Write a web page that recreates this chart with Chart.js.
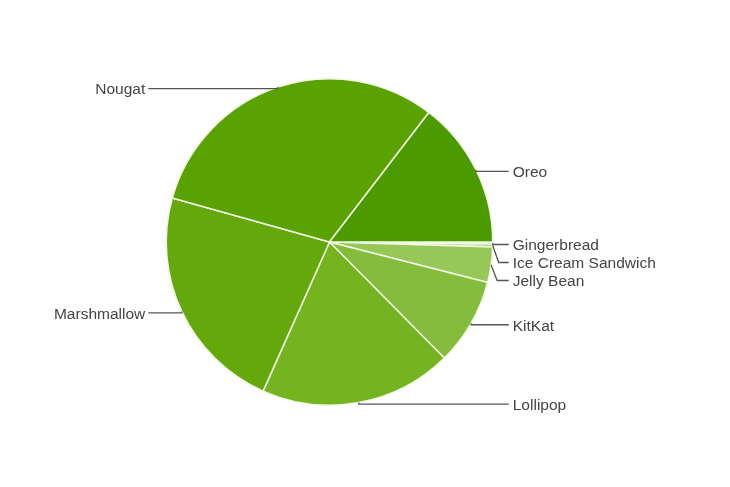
<!DOCTYPE html>
<html>
<head>
<meta charset="utf-8">
<title>Android versions</title>
<script src="https://cdn.jsdelivr.net/npm/chart.js@4"></script>
<style>
    html, body { margin: 0; padding: 0; background: #fff; }
    #wrap { width: 730px; height: 487px; position: relative; }
</style>
</head>
<body>
<div id="wrap"><canvas id="pie"></canvas></div>
<script>
// Android platform versions share (%)
const versions = ['Gingerbread', 'Ice Cream Sandwich', 'Jelly Bean', 'KitKat', 'Lollipop', 'Marshmallow', 'Nougat', 'Oreo'];
const shares = [0.2, 0.3, 3.5, 8.6, 19.1, 22.7, 31.1, 14.6];
const sliceColors = ['#cde6ae', '#b4d98a', '#97c857', '#84bc3c', '#74b421', '#64a80b', '#5aa200', '#4b9a00'];

// Leader lines + labels, Google Charts style
const leaderLabels = {
    id: 'leaderLabels',
    afterDraw(chart) {
        const ctx = chart.ctx;
        const arcs = chart.getDatasetMeta(0).data;
        const gap = 18;
        const items = arcs.map((arc, i) => {
            const mid = (arc.startAngle + arc.endAngle) / 2;
            const px = arc.x + Math.cos(mid) * arc.outerRadius;
            const py = arc.y + Math.sin(mid) * arc.outerRadius;
            return { i, px, py, ly: py + 1.5, right: Math.cos(mid) >= 0, cx: arc.x, r: arc.outerRadius };
        });

        // push overlapping labels apart on each side
        [true, false].forEach(side => {
            const list = items.filter(it => it.right === side).sort((a, b) => a.py - b.py);
            for (let k = 1; k < list.length; k++) {
                if (list[k].ly < list[k - 1].ly + gap) list[k].ly = list[k - 1].ly + gap;
            }
        });

        ctx.save();
        ctx.font = '15.5px "Liberation Sans", Arial, sans-serif';
        ctx.fillStyle = '#444';
        ctx.strokeStyle = '#555';
        ctx.lineWidth = 1.3;
        ctx.textBaseline = 'middle';
        items.forEach(it => {
            const endX = it.right ? it.cx + it.r + 16 : it.cx - it.r - 18;
            ctx.beginPath();
            ctx.moveTo(it.px, it.py);
            if (Math.abs(it.ly - it.py) > 2) {
                ctx.lineTo(it.right ? it.px + 6 : it.px - 6, it.ly);
            } else {
                ctx.lineTo(it.px, it.ly);
            }
            ctx.lineTo(endX, it.ly);
            ctx.stroke();
            ctx.textAlign = it.right ? 'left' : 'right';
            ctx.fillText(versions[it.i], it.right ? endX + 4 : endX - 3, it.ly + 1.5);
        });
        ctx.restore();
    }
};

new Chart(document.getElementById('pie'), {
    type: 'pie',
    data: {
        labels: versions,
        datasets: [{
            data: shares,
            backgroundColor: sliceColors,
            borderColor: '#f2f9e6',
            borderWidth: 1.5
        }]
    },
    options: {
        responsive: true,
        maintainAspectRatio: false,
        animation: false,
        rotation: 90,
        layout: { padding: { left: 165, right: 236, top: 78, bottom: 81 } },
        plugins: {
            legend: { display: false },
            tooltip: { enabled: false }
        }
    },
    plugins: [leaderLabels]
});
</script>
</body>
</html>
